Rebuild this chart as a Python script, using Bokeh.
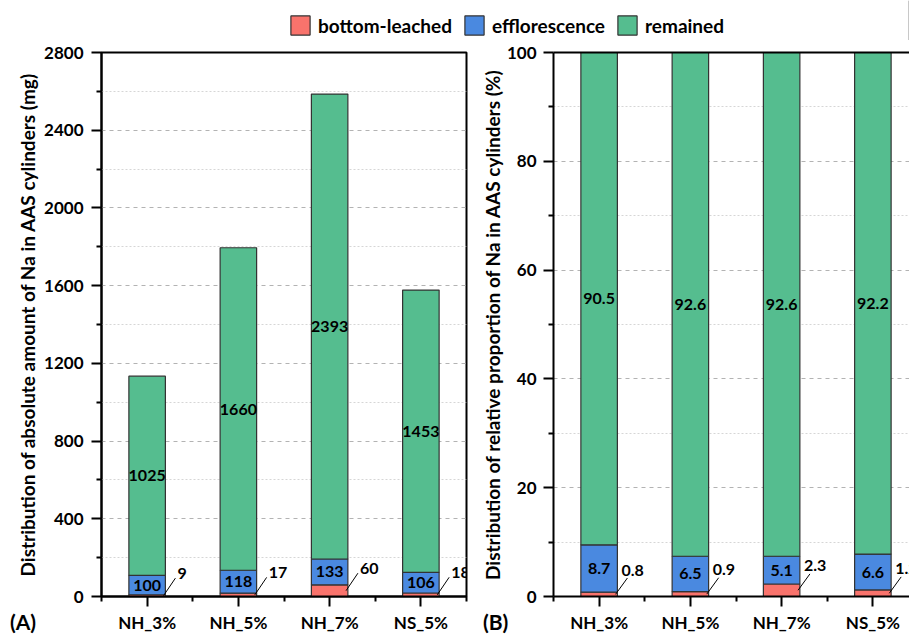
from bokeh.plotting import figure
from bokeh.models import (ColumnDataSource, FixedTicker, Range1d, LinearAxis,
                          Legend, LegendItem, Div)
from bokeh.layouts import column, row
from bokeh.embed import file_html
from bokeh.resources import INLINE
from bokeh.core.properties import value

# ---- data -------------------------------------------------------------
categories = ["NH_3%", "NH_5%", "NH_7%", "NS_5%"]
series = ["bottom-leached", "efflorescence", "remained"]
colors = ["#F9736C", "#4A89E0", "#55BD8F"]

# absolute amount of Na (mg)
abs_bottom = [9, 17, 60, 18]
abs_efflo = [100, 118, 133, 106]
abs_remain = [1025, 1660, 2393, 1453]

# relative proportion of Na (%)
rel_bottom = [0.8, 0.9, 2.3, 1.2]
rel_efflo = [8.7, 6.5, 5.1, 6.6]
rel_remain = [90.5, 92.6, 92.6, 92.2]

abs_ticks = [0, 400, 800, 1200, 1600, 2000, 2400, 2800]
abs_minor = [200, 600, 1000, 1400, 1800, 2200, 2600]
rel_ticks = [0, 20, 40, 60, 80, 100]
rel_minor = [10, 30, 50, 70, 90]

FONT = "Lato"
EDGE = "#333333"


def make_panel(width, border_left, border_right, x_end, y_end, ticks, minor,
               ylabel, ylabel_standoff, tick_standoff, bottom, efflo, remain,
               lead_dy, lead_label_dx, lead_label_dy, full_outline):
    p = figure(width=width, height=595, output_backend="svg",
               toolbar_location=None, x_range=Range1d(0, x_end),
               y_range=Range1d(0, y_end), min_border_left=border_left,
               min_border_right=border_right, min_border_top=12,
               min_border_bottom=36)
    xs = [i + 0.5 for i in range(len(categories))]
    src = ColumnDataSource(dict(x=xs, b=bottom, e=efflo, r=remain))
    p.vbar_stack(["b", "e", "r"], x="x", width=0.4, color=colors, source=src,
                 line_color=EDGE, line_width=1.2)

    # value labels inside the efflorescence and remained segments
    e_y = [b + e / 2 for b, e in zip(bottom, efflo)]
    r_y = [b + e + r / 2 for b, e, r in zip(bottom, efflo, remain)]
    lab_src = ColumnDataSource(dict(
        x=xs + xs, y=e_y + r_y,
        t=[str(v) for v in efflo] + [str(v) for v in remain]))
    p.text(x="x", y="y", text="t", source=lab_src, text_align="center",
           text_baseline="middle", text_font=value(FONT),
           text_font_style="bold", text_font_size="16px", text_color="black")

    # leader lines for the thin bottom-leached segments
    x0 = [x + 0.18 for x in xs]
    x1 = [x + 0.31 for x in xs]
    y0 = [b / 2 for b in bottom]
    y1 = [b / 2 + lead_dy for b in bottom]
    p.segment(x0=x0, y0=y0, x1=x1, y1=y1, line_color="black", line_width=1)
    p.text(x=x1, y=y1, text=[str(v) for v in bottom], text_align="left",
           text_baseline="middle", x_offset=lead_label_dx,
           y_offset=lead_label_dy, text_font=value(FONT),
           text_font_style="bold", text_font_size="16px", text_color="black")

    # axes
    p.xaxis.ticker = FixedTicker(ticks=xs, minor_ticks=[0, 1, 2, 3, 4])
    p.xaxis.major_label_overrides = {x: c for x, c in zip(xs, categories)}
    p.yaxis.ticker = FixedTicker(ticks=ticks, minor_ticks=minor)
    for ax in (p.xaxis[0], p.yaxis[0]):
        ax.axis_line_width = 2
        ax.axis_line_color = "black"
        ax.major_tick_line_width = 2
        ax.minor_tick_line_width = 2
        ax.major_tick_line_color = "black"
        ax.minor_tick_line_color = "black"
        ax.major_tick_in = 0
        ax.minor_tick_in = 0
        ax.major_tick_out = 10
        ax.minor_tick_out = 5
        ax.major_label_text_font = FONT
        ax.major_label_text_font_style = "bold"
        ax.major_label_text_font_size = "17px"
        ax.major_label_text_color = "black"
    p.xaxis.major_label_standoff = 5
    p.yaxis.major_label_standoff = tick_standoff
    p.yaxis.axis_label = ylabel
    p.yaxis.axis_label_text_font = FONT
    p.yaxis.axis_label_text_font_style = "bold"
    p.yaxis.axis_label_text_font_size = "19px"
    p.yaxis.axis_label_text_color = "black"
    p.yaxis.axis_label_standoff = ylabel_standoff

    # grid
    p.xgrid.visible = False
    p.ygrid.grid_line_color = "#b3b3b3"
    p.ygrid.grid_line_dash = "4 4"
    p.ygrid.minor_grid_line_color = "#d6d6d6"
    p.ygrid.minor_grid_line_dash = "2 2"

    if full_outline:
        p.outline_line_color = "black"
        p.outline_line_width = 2
    else:
        # only the top edge of the frame: a bare axis line without ticks
        p.outline_line_color = None
        top = LinearAxis(ticker=FixedTicker(ticks=[], minor_ticks=[]),
                         major_tick_line_color=None,
                         minor_tick_line_color=None,
                         major_label_text_color=None,
                         axis_line_width=2, axis_line_color="black")
        p.add_layout(top, "above")
    return p


p1 = make_panel(470, 101, 4, 4, 2800, abs_ticks, abs_minor,
                "Distribution of absolute amount of Na in AAS cylinders (mg)",
                2, 8, abs_bottom, abs_efflo, abs_remain, 90, 2, -5, True)
p2 = make_panel(439, 83, 0, 356 / 91.25, 100, rel_ticks, rel_minor,
                "Distribution of relative proportion of Na in AAS cylinders (%)",
                0, 7, rel_bottom, rel_efflo, rel_remain, 3.0, -6, -8, False)

# shared legend strip on top
lg = figure(width=909, height=40, output_backend="svg", toolbar_location=None,
            x_axis_type=None, y_axis_type=None, min_border=0,
            x_range=Range1d(0, 1), y_range=Range1d(0, 1))
lg.grid.visible = False
lg.outline_line_color = None
# proxy renderers placed outside the visible range, used only for swatches
swatches = [lg.vbar(x=[5], top=[1], width=0.4, fill_color=c, line_color=EDGE,
                    line_width=1.2) for c in colors]
legend = Legend(items=[LegendItem(label=s, renderers=[r])
                       for s, r in zip(series, swatches)],
                orientation="horizontal", location=(288, 3),
                glyph_width=24, glyph_height=24, label_standoff=6, spacing=10,
                padding=0, margin=0, border_line_color=None,
                background_fill_alpha=0, label_text_font=FONT,
                label_text_font_style="bold", label_text_font_size="19px",
                label_text_color="black", label_height=24)
lg.add_layout(legend)

# panel tags under the left corners
tag_style = {"position": "absolute", "font-family": "Lato",
             "font-weight": "bold", "font-size": "21px", "color": "black",
             "line-height": "22px", "margin": "0", "padding": "0"}
tag_a = Div(text="(A)", styles=dict(tag_style, left="10px", top="611px"))
tag_b = Div(text="(B)", styles=dict(tag_style, left="483px", top="611px"))

layout = column(lg, row(p1, p2), tag_a, tag_b)
open("out.html", "w").write(file_html(layout, INLINE))
